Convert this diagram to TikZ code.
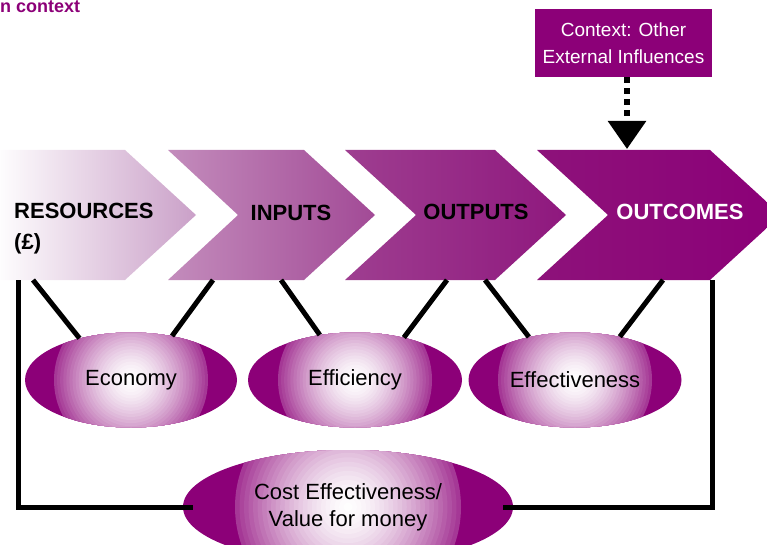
\documentclass[tikz,border=0pt]{standalone}
\usepackage{fontspec}
\setmainfont{Liberation Sans}
\usetikzlibrary{shapes.geometric,arrows.meta}

\definecolor{vfmpurple}{RGB}{140,0,120}

\tikzset{
  stage/.style = {
      inner sep = 0pt,
      align = left,
      font = \fontsize{22}{31}\selectfont\bfseries},
  measure/.style = {
      ellipse,
      fill = vfmpurple,
      inner sep = 0pt,
      align = center,
      font = \fontsize{22}{27}\selectfont,
      path picture = {
        \foreach \s in {100,96,...,4} {
          \pgfmathsetmacro\tint{78*(\s/100)^1.6}
          \fill[vfmpurple!\tint] (path picture bounding box.center) circle ({\s*#1/100});
        }}},
  measure/.default = 77pt,
  link/.style = {line width = 5pt, black},
}

\begin{document}
\begin{tikzpicture}[x = 1pt, y = -1pt]
\clip (0,0) rectangle (767,545);

% heading (cut off)
\node[anchor = base west,
    inner sep = 0pt,
    text = vfmpurple,
    font = \fontsize{18}{20}\selectfont\bfseries] (title) at (0,13) {n context};

% chevrons
\shade[left color = white, right color = {rgb,255:red,202;green,160;blue,200}]
  (-5,150) -- (125,150) -- (196,215) -- (125,280) -- (-5,280) -- cycle;
\shade[left color = {rgb,255:red,195;green,140;blue,188}, right color = {rgb,255:red,162;green,74;blue,150}]
  (168,150) -- (304,150) -- (375,215) -- (304,280) -- (168,280) -- (238,215) -- cycle;
\shade[left color = {rgb,255:red,158;green,62;blue,144}, right color = {rgb,255:red,143;green,24;blue,126}]
  (345,150) -- (495,150) -- (566,215) -- (495,280) -- (345,280) -- (416,215) -- cycle;
\shade[left color = {rgb,255:red,141;green,18;blue,122}, right color = vfmpurple]
  (537,150) -- (710,150) -- (781,215) -- (710,280) -- (537,280) -- (608,215) -- cycle;

\node[stage, anchor = west] (res) at (14,229) {RESOURCES\\(£)};
\node[stage] (inp) at (291,213) {INPUTS};
\node[stage] (outp) at (476,212) {OUTPUTS};
\node[stage, text = white] (outc) at (680,212) {OUTCOMES};

% feet of the links on the chevrons
\coordinate (resB0) at (18,280);
\coordinate (resB1) at (33,280);
\coordinate (inpB1) at (213,280);
\coordinate (inpB2) at (281,280);
\coordinate (outpB1) at (447,280);
\coordinate (outpB2) at (485,280);
\coordinate (outcB1) at (663,280);
\coordinate (outcB2) at (712,280);

% context box
\node[rectangle,
    fill = vfmpurple,
    text = white,
    align = center,
    font = \fontsize{19}{27}\selectfont,
    minimum width = 177pt,
    minimum height = 68pt] (ctx) at (623.5,43) {Context: Other\\External Influences};
\coordinate (tip) at (627,149);
\draw[line width = 6pt,
    dash pattern = on 6pt off 5pt,
    -{Triangle[width = 37pt, length = 28pt]}] (ctx.south -| tip) -- (tip);

% measures
\node[measure, minimum width = 212pt, minimum height = 95pt] (eco) at (131,380) {Economy};
\node[measure, minimum width = 214pt, minimum height = 95pt] (effi) at (355,380) {Efficiency};
\node[measure, minimum width = 213pt, minimum height = 95pt] (effe) at (575,380) {Effectiveness};
\node[measure = 113pt, minimum width = 330pt, minimum height = 114pt] (cost) at (348,507) {Cost Effectiveness/\\Value for money};

% links
\draw[link] (resB1) -- (eco.141);
\draw[link] (inpB1) -- (eco.47);
\draw[link] (inpB2) -- (effi.128);
\draw[link] (outpB1) -- (effi.41);
\draw[link] (outpB2) -- (effe.137);
\draw[link] (outcB1) -- (effe.44);
\draw[link] (resB0) |- ([xshift = 10pt]cost.west);
\draw[link] (outcB2) |- ([xshift = -10pt]cost.east);

\end{tikzpicture}
\end{document}
